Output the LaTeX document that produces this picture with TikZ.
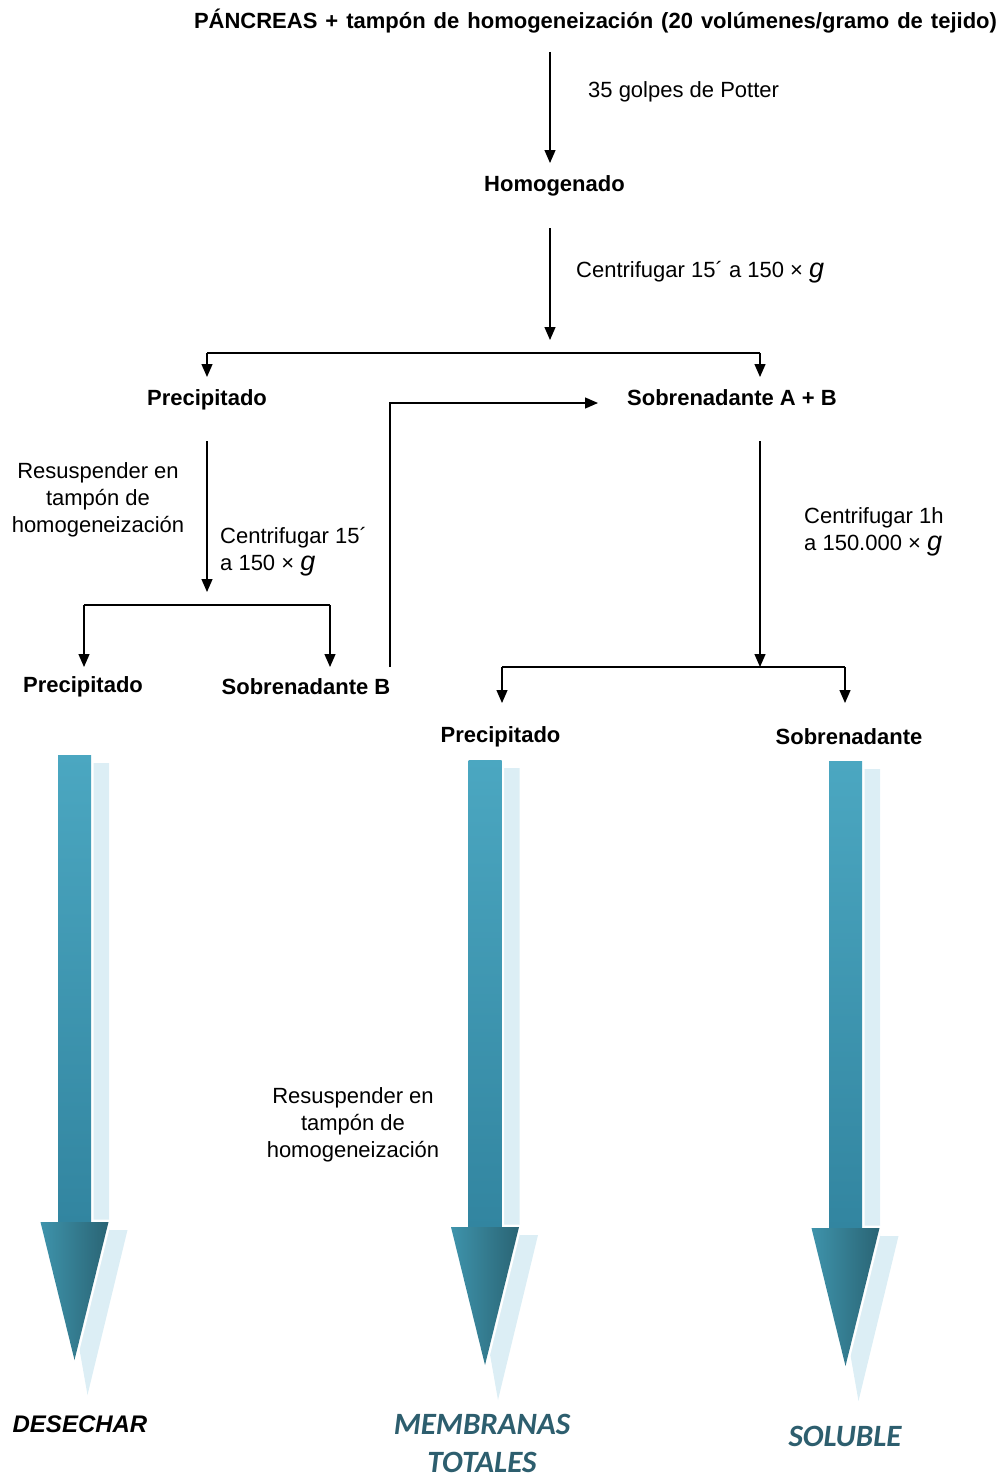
\documentclass[tikz,border=0pt]{standalone}
\usepackage{fontspec}
\setmainfont{Liberation Sans}
\newfontfamily\calibri{Carlito}
\usepackage{tikz}
\usetikzlibrary{arrows.meta,positioning}
\definecolor{sombra}{HTML}{DCEEF5}
\definecolor{tealA}{HTML}{4BA7C1}
\definecolor{tealB}{HTML}{3285A0}
\definecolor{tealC}{HTML}{3E93AB}
\definecolor{tealD}{HTML}{2A6474}
\definecolor{rotulo}{HTML}{2D5E6E}
\newcommand{\gital}{{\fontsize{27}{27}\selectfont\itshape g}}
% block arrow: centre x, top y
\newcommand{\flecha}[2]{%
  \fill[sombra] (#1+1,#2+8) -- (#1+34.5,#2+8) -- (#1+34.5,#2+475) -- (#1+53,#2+475) -- (#1+13,#2+640) -- (#1-16,#2+475) -- (#1+1,#2+475) -- cycle;
  \draw[white,line width=5pt,line join=round] (#1-16.5,#2) -- (#1+16.5,#2) -- (#1+16.5,#2+467) -- (#1+34,#2+467) -- (#1,#2+605) -- (#1-34,#2+467) -- (#1-16.5,#2+467) -- cycle;
  \shade[top color=tealA,bottom color=tealB] (#1-16.5,#2) rectangle (#1+16.5,#2+467.5);
  \shade[left color=tealC,right color=tealD] (#1-34,#2+467) -- (#1+34,#2+467) -- (#1,#2+605) -- cycle;
}

\begin{document}
\begin{tikzpicture}[x=1pt,y=-1pt,
    font=\fontsize{22}{27}\selectfont,
    paso/.style={inner sep=0pt,font=\fontsize{22}{27}\selectfont\bfseries},
    nota/.style={inner sep=0pt,align=left},
    linea/.style={line width=1.3pt},
    >={Triangle[length=13pt,width=11pt]}]
      \useasboundingbox (0,0) rectangle (1002,1477);
      % steps
      \node[paso] (T) at (595.5,21) {\spaceskip=8pt PÁNCREAS + tampón de homogeneización (20 volúmenes/gramo de tejido)};
      \node[paso] (H) at (554.5,186) {Homogenado};
      \node[paso] (P1) at (207,400) {Precipitado};
      \node[paso] (SAB) at (732,398) {Sobrenadante A + B};
      \node[paso] (P2) at (83,687) {Precipitado};
      \node[paso] (SB) at (306,687) {Sobrenadante B};
      \node[paso] (P3) at (500.5,737) {Precipitado};
      \node[paso] (S3) at (849,737) {Sobrenadante};
      % notes
      \node[nota,anchor=west] (n1) at (588,92) {35 golpes de Potter};
      \node[nota,anchor=west] (n2) at (576,272) {Centrifugar 15´ a 150 × \gital};
      \node[nota,align=center] (n3) at (98,500) {Resuspender en\\tampón de\\homogeneización};
      \node[nota,anchor=west] (n4) at (220,552) {Centrifugar 15´\\a 150 × \gital};
      \node[nota,anchor=west] (n5) at (804,532) {Centrifugar 1h\\a 150.000 × \gital};
      \node[nota,align=center] (n6) at (353,1125) {Resuspender en\\tampón de\\homogeneización};
      % connector ends
      \coordinate (a1) at (550,52);   \coordinate (a2) at (550,163);
      \coordinate (b1) at (550,228);  \coordinate (b2) at (550,340);
      \coordinate (bL) at (207,353);  \coordinate (bR) at (760,353);
      \coordinate (bL2) at (207,377); \coordinate (bR2) at (760,377);
      \coordinate (c1) at (207,441);  \coordinate (c2) at (207,592);
      \coordinate (cL) at (84,605);   \coordinate (cR) at (330,605);
      \coordinate (cL2) at (84,667);  \coordinate (cR2) at (330,667);
      \coordinate (r1) at (390,667);  \coordinate (r2) at (598,403);
      \coordinate (d1) at (760,441);  \coordinate (d2) at (760,667);
      \coordinate (dL) at (502,667);  \coordinate (dR) at (845,667);
      \coordinate (dL2) at (502,703); \coordinate (dR2) at (845,703);
      \draw [linea] [->] (a1) -- (a2);
      \draw [linea] [->] (b1) -- (b2);
      \draw [linea] (bL) -- (bR);
      \draw [linea] [->] (bL) -- (bL2);
      \draw [linea] [->] (bR) -- (bR2);
      \draw [linea] [->] (c1) -- (c2);
      \draw [linea] (cL) -- (cR);
      \draw [linea] [->] (cL) -- (cL2);
      \draw [linea] [->] (cR) -- (cR2);
      \draw [linea] [->] (r1) |- (r2);
      \draw [linea] [->] (d1) -- (d2);
      \draw [linea] (dL) -- (dR);
      \draw [linea] [->] (dL) -- (dL2);
      \draw [linea] [->] (dR) -- (dR2);
      % big arrows
      \flecha{74.5}{755}
      \flecha{485}{760}
      \flecha{845.5}{761}
      % results
      \node[inner sep=0pt,font=\fontsize{24}{28}\selectfont\bfseries\itshape] (D) at (80,1424) {DESECHAR};
      \node[inner sep=0pt,align=center,text=rotulo,font=\calibri\fontsize{31}{38}\selectfont\bfseries\itshape] (MT) at (482,1443) {MEMBRANAS\\TOTALES};
      \node[inner sep=0pt,text=rotulo,font=\calibri\fontsize{31}{38}\selectfont\bfseries\itshape] (SO) at (845,1436) {SOLUBLE};
\end{tikzpicture}
\end{document}
